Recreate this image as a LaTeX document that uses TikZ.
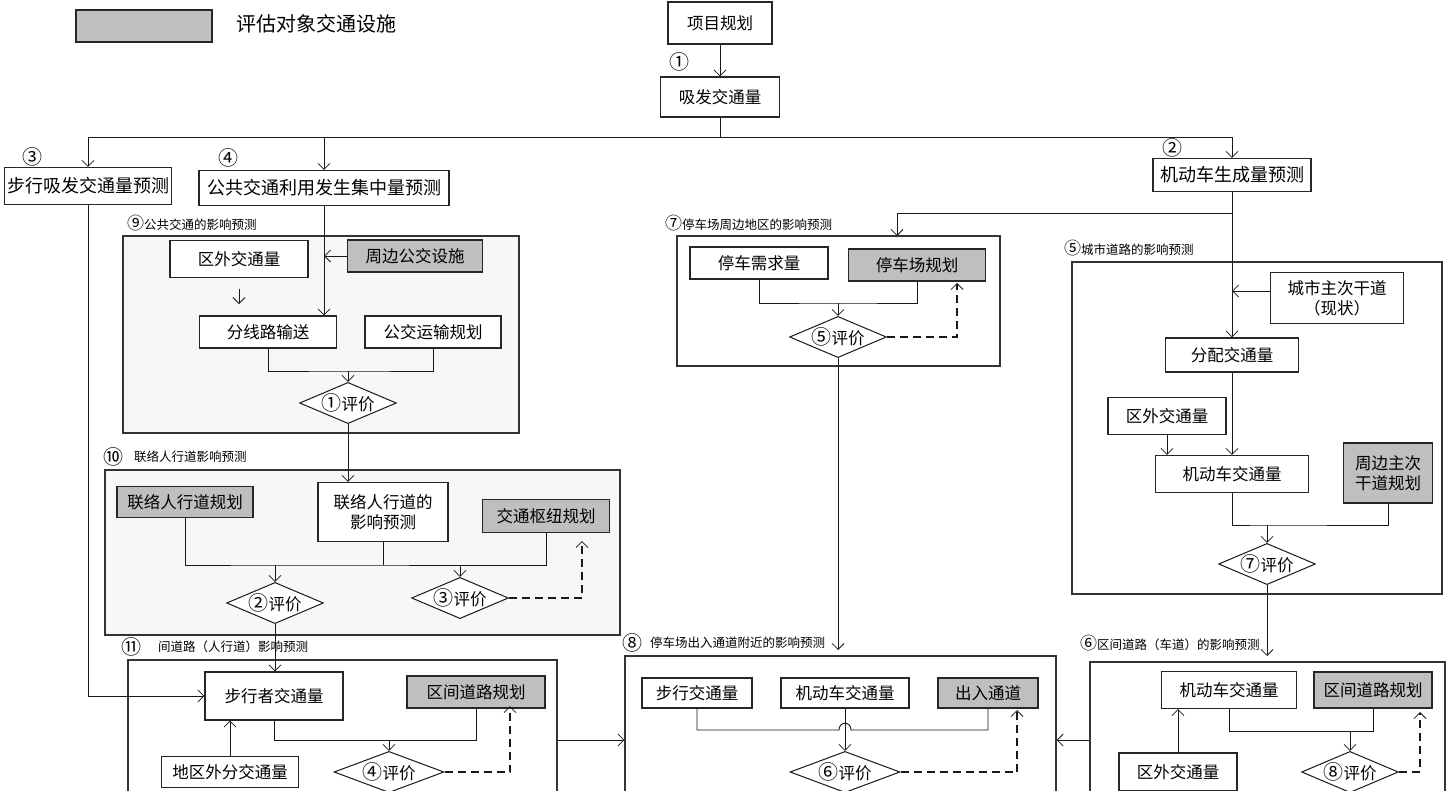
\documentclass[tikz,border=0pt]{standalone}
\usepackage{fontspec}
\setmainfont{Noto Sans CJK SC}
\usetikzlibrary{arrows.meta,shapes.geometric,calc}
\newcommand{\cn}[1]{{\fontsize{20}{20}\selectfont #1}}
\newcommand{\cs}[1]{{\fontsize{17}{17}\selectfont #1}}
\begin{document}
\begin{tikzpicture}[x=1pt,y=-1pt,
  every node/.style={font=\fontsize{16.5}{20}\selectfont,text=black},
  box/.style={draw=black!85,line width=1.1pt,fill=white,inner sep=0pt,align=center},
  gbox/.style={box,fill=black!25},
  topbox/.style={box,font=\fontsize{18}{22}\selectfont},
  region/.style={draw=black!80,line width=1.2pt,inner sep=0pt},
  dia/.style={draw=black!90,line width=1pt,fill=white,diamond,aspect=2.35,inner sep=0pt},
  small/.style={font=\fontsize{12.5}{14}\selectfont,inner sep=0pt},
  circ/.style={font=\fontsize{20}{20}\selectfont,inner sep=0pt},
  conn/.style={line width=0.9pt,draw=black!90},
  arr/.style={conn,-{Straight Barb[length=6pt,width=12pt,line width=0.8pt]}},
  dsh/.style={arr,line width=1.3pt,dash pattern=on 8pt off 5pt}]
\useasboundingbox (0,0) rectangle (1448,790);
\fill[white] (0,0) rectangle (1448,790);

% legend
\node[gbox,minimum width=136,minimum height=32] (leg) at (144,26) {};
\node[anchor=west,inner sep=0pt,font=\fontsize{20}{24}\selectfont] (legt) at (236,24) {评估对象交通设施};

% regions
\node[region,fill=black!3,minimum width=396,minimum height=197] (r9) at (321,334.5) {};
\node[region,fill=black!3,minimum width=515,minimum height=165] (r10) at (362.5,552.5) {};
\node[region,fill=white,minimum width=429,minimum height=160] (r11) at (342.5,740) {};
\node[region,fill=white,minimum width=323,minimum height=130] (r7) at (838.5,301) {};
\node[region,fill=white,minimum width=370,minimum height=332] (r5) at (1257,428) {};
\node[region,fill=white,minimum width=431,minimum height=168] (r8) at (840.5,740) {};
\node[region,fill=white,minimum width=355,minimum height=156] (r6) at (1267.5,740) {};

% region labels
\node[small,anchor=west] (l9) at (127,223) {\cs{⑨}公共交通的影响预测};
\node[circ] (l10c) at (113,457) {⑩};
\node[small,anchor=west] (l10) at (134,457) {联络人行道影响预测};
\node[circ] (l11c) at (131,647) {⑪};
\node[small,anchor=west] (l11) at (158,647) {间道路（人行道）影响预测};
\node[small,anchor=west] (l7) at (665,223) {\cs{⑦}停车场周边地区的影响预测};
\node[small,anchor=west] (l5) at (1064,248) {\cs{⑤}城市道路的影响预测};
\node[circ] (l8c) at (632,643) {⑧};
\node[small,anchor=west] (l8) at (650,643) {停车场出入通道附近的影响预测};
\node[small,anchor=west] (l6) at (1080,643) {\cs{⑥}区间道路（车道）的影响预测};

% top part
\node[box,minimum width=104,minimum height=42] (xm) at (720,23) {项目规划};
\node[circ] (c1) at (679,62) {①};
\node[box,minimum width=119,minimum height=40] (xf) at (720,97) {吸发交通量};
\node[topbox,minimum width=167,minimum height=37] (bx) at (88,186) {步行吸发交通量预测};
\node[topbox,minimum width=250,minimum height=35] (gj) at (324,188) {公共交通利用发生集中量预测};
\node[topbox,minimum width=158,minimum height=33] (jd) at (1232,175) {机动车生成量预测};
\node[circ] (c3) at (33,157) {③};
\node[circ] (c4) at (228,158) {④};
\node[circ] (c2) at (1172,148) {②};
\coordinate (j0) at (720,137);
\draw[arr] (xm) -- (xf);
\draw[conn] (xf.south) -- (j0);
\draw[arr] (j0) -| (bx.north);
\draw[arr] (j0) -| (gj.north);
\draw[arr] (j0) -| (jd.north);

% region 9
\node[box,minimum width=138,minimum height=37] (qw1) at (239,259) {区外交通量};
\node[gbox,minimum width=135,minimum height=32] (zb) at (415,256) {周边公交设施};
\node[box,minimum width=137,minimum height=32] (fx) at (268,332) {分线路输送};
\node[box,minimum width=136,minimum height=32] (gy) at (433,332) {公交运输规划};
\node[dia] (d1) at (348,403) {\cn{①}评价};
\coordinate (s1) at (239,289);
\coordinate (s2) at (239,304);
\coordinate (m1) at (348,371);
\draw[arr] (gj.south) -- (gj.south |- fx.north);
\draw[arr] (zb.west) -- (zb.west -| gj.south);
\draw[arr] (s1) -- (s2);
\draw[conn] (fx.south) |- (m1) -| (gy.south);
\draw[arr] (m1) -- (d1.north);

% region 10
\node[gbox,minimum width=136,minimum height=31] (lg) at (185,502) {联络人行道规划};
\node[box,minimum width=130,minimum height=59] (ll) at (383,512) {联络人行道的\\影响预测};
\node[gbox,minimum width=127,minimum height=33] (jt) at (546,516) {交通枢纽规划};
\node[dia] (d2) at (275,603) {\cn{②}评价};
\node[dia] (d3) at (460,598) {\cn{③}评价};
\coordinate (m2) at (275,565);
\coordinate (m3) at (460,565);
\coordinate (t3) at (582,541);
\draw[arr] (d1.south) -- (d1.south |- ll.north);
\draw[conn] (lg.south) |- (m2) -| (jt.south);
\draw[conn] (ll.south) -- (ll.south |- m2);
\draw[arr] (m2) -- (d2.north);
\draw[arr] (m3) -- (d3.north);
\draw[dsh] (d3.east) -| (t3);

% region 11
\node[box,minimum width=138,minimum height=48] (bz) at (274,696) {步行者交通量};
\node[gbox,minimum width=138,minimum height=32] (qd) at (476,692) {区间道路规划};
\node[box,minimum width=137,minimum height=31] (dq) at (230,772) {地区外分交通量};
\node[dia,minimum width=110] (d4) at (389,772) {\cn{④}评价};
\coordinate (m4) at (389,740);
\coordinate (t4) at (510,706);
\draw[arr] (d2.south) -- (d2.south |- bz.north);
\draw[arr] (bx.south) |- (bz.west);
\draw[arr] (dq.north) -- (dq.north |- bz.south);
\draw[conn] (bz.south) |- (m4) -| (qd.south);
\draw[arr] (m4) -- (d4.north);
\draw[dsh] (d4.east) -| (t4);
\draw[arr] (r11.east |- m4) -- (r8.west |- m4);

% region 7
\node[box,minimum width=138,minimum height=32] (tc) at (759,263) {停车需求量};
\node[gbox,minimum width=137,minimum height=32] (tg) at (917,265) {停车场规划};
\node[dia] (d5) at (838,337) {\cn{⑤}评价};
\coordinate (m5) at (1232,213);
\coordinate (t7) at (897,236);
\coordinate (m6) at (838,303);
\coordinate (t5) at (957,283);
\coordinate (t8) at (838,650);
\draw[arr] (m5) -| (t7);
\draw[conn] (tc.south) |- (m6) -| (tg.south);
\draw[arr] (m6) -- (d5.north);
\draw[dsh] (d5.east) -| (t5);
\draw[arr] (d5.south) -- (t8);

% region 5
\node[box,minimum width=133,minimum height=51] (csx) at (1337,298) {城市主次干道\\（现状）};
\node[box,minimum width=133,minimum height=34] (fp) at (1232,355) {分配交通量};
\node[box,minimum width=118,minimum height=37] (qw2) at (1167,416) {区外交通量};
\node[box,minimum width=153,minimum height=37] (jj) at (1232,474) {机动车交通量};
\node[gbox,minimum width=89,minimum height=60] (zg) at (1388,473) {周边主次\\干道规划};
\node[dia] (d7) at (1267,564) {\cn{⑦}评价};
\coordinate (c5) at (1270,291);
\coordinate (m7) at (1267,525);
\coordinate (t6) at (1267,656);
\draw[arr] (jd.south) -- (fp.north);
\draw[arr] (c5) -- (c5 -| fp.north);
\draw[arr] (qw2.south) -- (qw2.south |- jj.north);
\draw[arr] (fp.south) -- (jj.north);
\draw[conn] (jj.south) |- (m7) -| (zg.south);
\draw[arr] (m7) -- (d7.north);
\draw[arr] (d7.south) -- (t6);

% region 8
\node[box,minimum width=110,minimum height=30] (bj) at (697,693) {步行交通量};
\node[box,minimum width=128,minimum height=30] (jj2) at (845,693) {机动车交通量};
\node[gbox,minimum width=100,minimum height=30] (cr) at (988,693) {出入通道};
\node[dia,minimum width=110] (d6) at (845,772) {\cn{⑥}评价};
\coordinate (h1) at (839,730);
\coordinate (h2) at (851,730);
\coordinate (t8b) at (1017,710);
\draw[conn] (bj.south) |- (h1) .. controls (839,721) and (851,721) .. (h2) -| (cr.south);
\draw[arr] (jj2.south) -- (d6.north);
\draw[dsh] (d6.east) -| (t8b);
\draw[arr] (r6.west) -- (r8.east);

% region 6
\node[box,minimum width=135,minimum height=37] (jj3) at (1229,690) {机动车交通量};
\node[gbox,minimum width=118,minimum height=36] (qd2) at (1373,690) {区间道路规划};
\node[box,minimum width=118,minimum height=38] (qw3) at (1178,772) {区外交通量};
\node[dia] (d8) at (1350,772) {\cn{⑧}评价};
\coordinate (m8) at (1350,731);
\coordinate (t9) at (1420,712);
\draw[arr] (qw3.north) -- (qw3.north |- jj3.south);
\draw[conn] (jj3.south) |- (m8) -| (qd2.south);
\draw[arr] (m8) -- (d8.north);
\draw[dsh] (d8.east) -| (t9);
\end{tikzpicture}
\end{document}
